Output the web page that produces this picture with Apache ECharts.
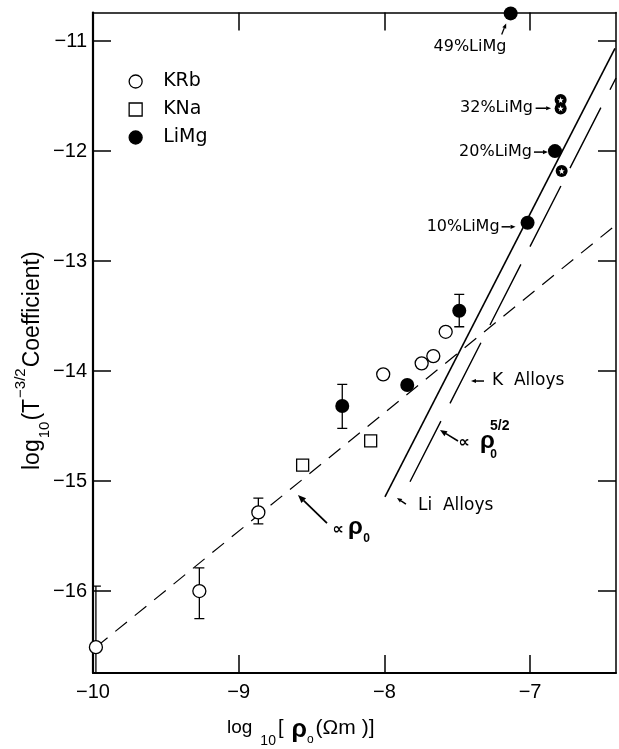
<!DOCTYPE html>
<html>
<head>
<meta charset="utf-8">
<script src="https://cdn.jsdelivr.net/npm/echarts/dist/echarts.min.js"></script>
<style>
  html, body { margin: 0; padding: 0; background: #fff; }
  #chart { width: 619px; height: 749px; }
</style>
</head>
<body>
<div id="chart"></div>
<script>
// ---- data: log10(rho0 / Ohm m) vs log10(T^-3/2 coefficient) ----
// K-Rb alloys (open circles)
const krbX = [-9.98, -9.27, -8.865, -8.008, -7.744, -7.664, -7.579];
const krbY = [-16.51, -16.00, -15.285, -14.03, -13.93, -13.864, -13.643];
const krbErrLow  = [-17.06, -16.25, -15.39, null, null, null, null];
const krbErrHigh = [-15.955, -15.79, -15.155, null, null, null, null];

// K-Na alloys (open squares)
const knaX = [-8.561, -8.094];
const knaY = [-14.855, -14.634];

// Li-Mg alloys (filled circles)
const limgX = [-8.289, -7.843, -7.486, -7.017, -6.829, -7.133];
const limgY = [-14.318, -14.127, -13.452, -12.652, -12.0, -10.748];
const limgErrLow  = [-14.521, null, -13.597, null, null, null];
const limgErrHigh = [-14.121, null, -13.303, null, null, null];
const limgTags = ['', '', '', '10%LiMg', '20%LiMg', '49%LiMg'];

// Li-Mg samples drawn with starred rings
const starX = [-6.790, -6.790, -6.783];
const starY = [-11.536, -11.612, -12.182];
const starTag = '32%LiMg';

// reference lines
const rho0LineX = [-9.98, -6.41];
const rho0LineY = [-16.51, -12.67];
const liLineX = [-7.996, -6.417];
const liLineY = [-15.143, -11.066];
const kLineX = [-7.824, -6.41];
const kLineY = [-15.006, -11.335];

// axes
const xRange = [-10, -6.41];
const yRange = [-16.745, -10.74];
const xTicks = [-10, -9, -8, -7];
const yTicks = [-16, -15, -14, -13, -12, -11];

// label anchor on the rho0 line (data units)
const rho0LabelAt = [-8.593, -15.127];

// ---- helpers ----
const pairs = (xs, ys) => xs.map((x, i) => [x, ys[i]]);
const minus = v => (v < 0 ? '\u2212' : '') + Math.abs(v);

const errData = [];
krbX.forEach((x, i) => { if (krbErrLow[i] != null) errData.push([x, krbErrLow[i], krbErrHigh[i]]); });
limgX.forEach((x, i) => { if (limgErrLow[i] != null) errData.push([x, limgErrLow[i], limgErrHigh[i]]); });

const NUM_FONT = '"Liberation Sans", Arial, sans-serif';
const ANNO_FONT = '"DejaVu Sans", sans-serif';
const BLACK = '#000';

function axisCommon(ticks, showLabels, lineWidth) {
  return {
    axisLine: { show: true, onZero: false, lineStyle: { color: BLACK, width: lineWidth } },
    axisTick: { show: true, inside: true, length: 18, customValues: ticks,
                lineStyle: { color: BLACK, width: 1.5 } },
    axisLabel: { show: showLabels, customValues: ticks,
                 formatter: v => (ticks.indexOf(v) >= 0 ? minus(v) : ''),
                 color: BLACK, fontFamily: NUM_FONT, fontSize: 20 },
    splitLine: { show: false }
  };
}

const xBottom = Object.assign({ type: 'value', position: 'bottom', min: xRange[0], max: xRange[1] },
                              axisCommon(xTicks, true, 2));
xBottom.axisLabel.margin = 9;
const xTop = Object.assign({ type: 'value', position: 'top', min: xRange[0], max: xRange[1] },
                           axisCommon(xTicks, false, 1.5));
const yLeft = Object.assign({ type: 'value', position: 'left', min: yRange[0], max: yRange[1] },
                            axisCommon(yTicks, true, 2.2));
yLeft.axisLabel.margin = 6;
const yRight = Object.assign({ type: 'value', position: 'right', min: yRange[0], max: yRange[1] },
                             axisCommon(yTicks, false, 1.5));

const option = {
  animation: false,
  backgroundColor: '#fff',
  grid: { left: 93, right: 3, top: 12.5, bottom: 76 },
  xAxis: [xBottom, xTop],
  yAxis: [yLeft, yRight],
  legend: {
    data: ['KRb', 'KNa', 'LiMg'],
    orient: 'vertical',
    left: 123.5, top: 67,
    itemWidth: 13, itemHeight: 13, itemGap: 9,
    itemStyle: { borderColor: BLACK, borderWidth: 1.3 },
    textStyle: { color: BLACK, fontFamily: ANNO_FONT, fontSize: 19, padding: [0, 0, 0, 16] },
    selectedMode: false
  },
  series: [
    {
      name: 'rho0 line', type: 'line', data: pairs(rho0LineX, rho0LineY), symbol: 'none',
      lineStyle: { color: BLACK, width: 1.2, type: [15, 10] }, silent: true, z: 1
    },
    {
      name: 'Li alloys line', type: 'line', data: pairs(liLineX, liLineY), symbol: 'none',
      lineStyle: { color: BLACK, width: 1.6 }, silent: true, z: 1
    },
    {
      name: 'K alloys line', type: 'line', data: pairs(kLineX, kLineY), symbol: 'none',
      lineStyle: { color: BLACK, width: 1.4, type: [68, 20] }, silent: true, z: 1
    },
    {
      name: 'error bars', type: 'custom', data: errData, clip: true, silent: true, z: 2,
      renderItem: (params, api) => {
        const lo = api.coord([api.value(0), api.value(1)]);
        const hi = api.coord([api.value(0), api.value(2)]);
        const cap = 5;
        const st = { stroke: BLACK, lineWidth: 1.3 };
        return { type: 'group', children: [
          { type: 'line', shape: { x1: lo[0], y1: lo[1], x2: hi[0], y2: hi[1] }, style: st },
          { type: 'line', shape: { x1: lo[0] - cap, y1: lo[1], x2: lo[0] + cap, y2: lo[1] }, style: st },
          { type: 'line', shape: { x1: hi[0] - cap, y1: hi[1], x2: hi[0] + cap, y2: hi[1] }, style: st }
        ] };
      }
    },
    {
      name: 'KRb', type: 'scatter', data: pairs(krbX, krbY), symbol: 'circle', symbolSize: 13,
      itemStyle: { color: '#fff', borderColor: BLACK, borderWidth: 1.3, opacity: 1 }, clip: false, z: 3
    },
    {
      name: 'KNa', type: 'scatter', data: pairs(knaX, knaY), symbol: 'rect', symbolSize: 12,
      itemStyle: { color: '#fff', borderColor: BLACK, borderWidth: 1.3, opacity: 1 }, clip: false, z: 3
    },
    {
      name: 'LiMg', type: 'scatter', data: pairs(limgX, limgY), symbol: 'circle', symbolSize: 14,
      itemStyle: { color: BLACK, opacity: 1 }, clip: false, z: 3
    },
    {
      name: 'LiMg ring', type: 'scatter', data: pairs(starX, starY), symbol: 'circle', symbolSize: 12,
      itemStyle: { color: BLACK, opacity: 1 }, clip: false, z: 3
    },
    {
      name: 'LiMg ring star', type: 'scatter', data: pairs(starX, starY), symbolSize: 6,
      symbol: 'path://M0,-10L2.35,-3.24L9.51,-3.09L3.8,1.24L5.88,8.09L0,4.2L-5.88,8.09L-3.8,1.24L-9.51,-3.09L-2.35,-3.24Z',
      itemStyle: { color: '#fff', opacity: 1 }, clip: false, z: 4
    }
  ]
};

const chart = echarts.init(document.getElementById('chart'), null, { renderer: 'canvas' });
chart.setOption(option);

// ---- annotations ----
const measureCtx = document.createElement('canvas').getContext('2d');
const toPx = (x, y) => chart.convertToPixel({ gridIndex: 0 }, [x, y]);

function text(x, y, s, font, align) {
  return {
    type: 'text', x: x, y: y, silent: true, z: 10,
    style: { text: s, font: font, fill: BLACK, textAlign: align || 'left', align: align || 'left',
             textVerticalAlign: 'middle', verticalAlign: 'middle' }
  };
}

function arrow(t, h, head, w) {
  head = head || 6; w = w || 1.4;
  const a = Math.atan2(h[1] - t[1], h[0] - t[0]);
  const bx = h[0] - head * Math.cos(a), by = h[1] - head * Math.sin(a);
  const nx = -Math.sin(a) * head * 0.42, ny = Math.cos(a) * head * 0.42;
  return [
    { type: 'line', silent: true, z: 10, shape: { x1: t[0], y1: t[1], x2: bx, y2: by },
      style: { stroke: BLACK, lineWidth: w } },
    { type: 'polygon', silent: true, z: 10,
      shape: { points: [[h[0], h[1]], [bx + nx, by + ny], [bx - nx, by - ny]] },
      style: { fill: BLACK } }
  ];
}

// a run of text pieces laid side by side (sub/superscripts via dy)
function runs(x, y, rotation, parts) {
  let cx = 0;
  const children = parts.map(p => {
    cx += p.gap || 0;
    const el = text(cx, p.dy || 0, p.t, p.font);
    measureCtx.font = p.font;
    cx += measureCtx.measureText(p.t).width;
    return el;
  });
  return { type: 'group', x: x, y: y, rotation: rotation || 0, silent: true, children: children };
}

const add = (p, d) => [p[0] + d[0], p[1] + d[1]];
const TAG_FONT = '16px ' + ANNO_FONT;
const els = [];

// composition tags on the Li-Mg points
limgTags.forEach((tag, i) => {
  if (!tag) return;
  const p = toPx(limgX[i], limgY[i]);
  if (tag === '49%LiMg') {
    els.push(text(p[0] - 40.7, p[1] + 33.7, tag, TAG_FONT, 'center'));
    els.push(...arrow(add(p, [-9, 21]), add(p, [-4.5, 10]), 5, 1.3));
  } else if (tag === '20%LiMg') {
    els.push(text(p[0] - 23, p[1] + 1, tag, TAG_FONT, 'right'));
    els.push(...arrow(add(p, [-21, 1]), add(p, [-7, 1]), 5, 1.5));
  } else {
    els.push(text(p[0] - 28, p[1] + 4, tag, TAG_FONT, 'right'));
    els.push(...arrow(add(p, [-26, 4]), add(p, [-12, 4]), 5, 1.5));
  }
});
{
  const a = toPx(starX[0], (starY[0] + starY[1]) / 2);
  els.push(text(a[0] - 27.7, a[1] + 4, starTag, TAG_FONT, 'right'));
  els.push(...arrow(add(a, [-25, 4]), add(a, [-9.5, 4]), 5, 1.5));
}

// labels for the K and Li alloy lines and the rho0 line
{
  const k = toPx(kLineX[0], kLineY[0]);
  els.push(...arrow(add(k, [74, -100.7]), add(k, [61, -100.7]), 5, 1.5));
  els.push(text(k[0] + 82, k[1] - 100.7, 'K  Alloys', '17px ' + ANNO_FONT));
  els.push(...arrow(add(k, [48, -40.7]), add(k, [30, -51.7]), 7, 1.6));
  els.push(text(k[0] + 54, k[1] - 38.7, '\u221D', 'bold 16px ' + ANNO_FONT, 'center'));
  els.push(text(k[0] + 70, k[1] - 40.7, '\u03C1', 'bold 24px ' + NUM_FONT));
  els.push(text(k[0] + 83.5, k[1] - 26.7, '0', 'bold 12px ' + NUM_FONT, 'center'));
  els.push(text(k[0] + 80, k[1] - 55.7, '5/2', 'bold 14px ' + NUM_FONT));

  const l = toPx(liLineX[0], liLineY[0]);
  els.push(...arrow(add(l, [21, 7.3]), add(l, [12, 1.3]), 5, 1.5));
  els.push(text(l[0] + 33, l[1] + 8.3, 'Li  Alloys', '17px ' + ANNO_FONT));

  const r = toPx(rho0LabelAt[0], rho0LabelAt[1]);
  els.push(...arrow(add(r, [29, 28]), r, 8, 1.8));
  els.push(text(r[0] + 40, r[1] + 35, '\u221D', 'bold 16px ' + ANNO_FONT, 'center'));
  els.push(text(r[0] + 50, r[1] + 32, '\u03C1', 'bold 24px ' + NUM_FONT));
  els.push(text(r[0] + 68.5, r[1] + 44, '0', 'bold 12px ' + NUM_FONT, 'center'));
}

// axis titles
const MAIN = '23px ' + NUM_FONT, SMALL = '15px ' + NUM_FONT;
els.push(runs(33, 470, Math.PI / 2, [
  { t: 'log', font: MAIN },
  { t: '10', font: SMALL, dy: 12, gap: 1 },
  { t: '(T', font: MAIN, gap: 1 },
  { t: '\u22123/2', font: SMALL, dy: -12, gap: 1 },
  { t: 'Coefficient)', font: MAIN, gap: 1 }
]));
els.push(runs(227, 728, 0, [
  { t: 'log', font: '19px ' + NUM_FONT },
  { t: '10', font: '14px ' + NUM_FONT, dy: 13, gap: 8 },
  { t: '[', font: '20px ' + NUM_FONT, gap: 2 },
  { t: '\u03C1', font: 'bold 25px ' + NUM_FONT, dy: 2, gap: 8 },
  { t: 'o', font: '12px ' + NUM_FONT, dy: 12 },
  { t: '(\u03A9m )]', font: '21px ' + NUM_FONT, gap: 2 }
]));

chart.setOption({ graphic: { elements: els } });
</script>
</body>
</html>
